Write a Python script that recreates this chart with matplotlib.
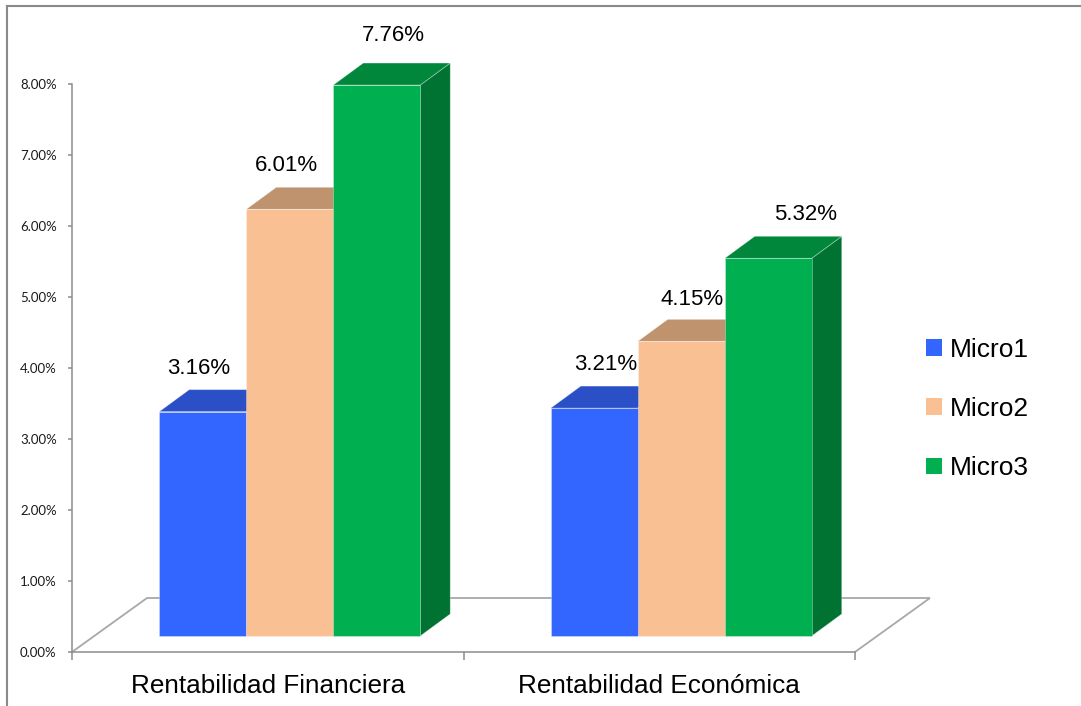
import matplotlib
matplotlib.use("Agg")
import matplotlib.pyplot as plt
from matplotlib.patches import Polygon, Patch
from matplotlib.lines import Line2D

# ---- data -------------------------------------------------------------
categories = ["Rentabilidad Financiera", "Rentabilidad Económica"]
series_names = ["Micro1", "Micro2", "Micro3"]
micro1 = [3.16, 3.21]
micro2 = [6.01, 4.15]
micro3 = [7.76, 5.32]
y_ticks = [0, 1, 2, 3, 4, 5, 6, 7, 8]

series_values = [micro1, micro2, micro3]

# ---- style ------------------------------------------------------------
front_colors = ["#3366FF", "#F9C193", "#00B050"]
top_colors = ["#2B4FC6", "#BF936E", "#00873C"]
side_colors = ["#223FA0", "#A57B55", "#007232"]
label_nudge_x_px = [[-19, -4], [-18, -4], [2, 22]]   # per series, per category
label_nudge_y_px = [[0, 0], [0, -2], [6, 0]]
axis_gray = "#8C8C8C"
floor_gray = "#A8A8A8"
main_font = "Liberation Sans"

W, H = 1081, 706
fig = plt.figure(figsize=(W / 100, H / 100), dpi=100)
fig.patch.set_facecolor("white")

# plot area: value axis at x=72px, floor front edge from 72 to 855px
ax = fig.add_axes([72 / W, (H - 652) / H, 783 / W, 568 / H])
ax.set_xlim(-0.5, 1.5)
ax.set_ylim(0, 8)
ax.set_facecolor("none")


def px_to_data(dx_px, dy_px):
    x0, y0 = ax.transData.transform((0, 0))
    x1, y1 = ax.transData.transform((1, 1))
    return dx_px / (x1 - x0), dy_px / (y1 - y0)


floor_dx, floor_dy = px_to_data(75, 54)     # full floor depth
front_dx, front_dy = px_to_data(22, 16)     # where bar fronts sit
depth_dx, depth_dy = px_to_data(30, 22)     # bar depth

# ---- floor ------------------------------------------------------------
xl, xr = ax.get_xlim()
floor_lines = [
    ([xl + floor_dx, xr + floor_dx], [floor_dy, floor_dy]),
    ([xl, xl + floor_dx], [0, floor_dy]),
    ([xr, xr + floor_dx], [0, floor_dy]),
]
for xs, ys in floor_lines:
    ax.plot(xs, ys, color=floor_gray, lw=1.3, zorder=1, clip_on=False,
            solid_capstyle="butt")

# ---- 3D bars ------------------------------------------------------------
n_series = len(series_values)
bar_w = 1.0 / 4.5
edge_kw = dict(edgecolor=(1, 1, 1, 0.35), linewidth=0.6, clip_on=False)

for j, cat in enumerate(categories):
    for i, vals in enumerate(series_values):
        v = vals[j]
        x0 = j + (i - (n_series - 1) / 2) * bar_w - bar_w / 2 + front_dx
        x1 = x0 + bar_w
        yb = front_dy
        yt = v + front_dy
        z = 3 + i * 3
        side = [(x1, yb), (x1 + depth_dx, yb + depth_dy),
                (x1 + depth_dx, yt + depth_dy), (x1, yt)]
        top = [(x0, yt), (x1, yt), (x1 + depth_dx, yt + depth_dy),
               (x0 + depth_dx, yt + depth_dy)]
        front = [(x0, yb), (x1, yb), (x1, yt), (x0, yt)]
        ax.add_patch(Polygon(side, closed=True, facecolor=side_colors[i],
                             zorder=z, **edge_kw))
        ax.add_patch(Polygon(top, closed=True, facecolor=top_colors[i],
                             zorder=z + 1, **edge_kw))
        ax.add_patch(Polygon(front, closed=True, facecolor=front_colors[i],
                             zorder=z + 2, **edge_kw))
        ax.annotate(f"{v:.2f}%",
                    xy=((x0 + x1) / 2 + depth_dx / 2, yt + depth_dy),
                    xytext=(label_nudge_x_px[i][j] * 0.72,
                            (16 + label_nudge_y_px[i][j]) * 0.72),
                    textcoords="offset points", ha="center", va="baseline",
                    fontsize=16, family=main_font, color="#000000",
                    zorder=20, annotation_clip=False)

# ---- axes styling -----------------------------------------------------
for s in ("top", "right"):
    ax.spines[s].set_visible(False)
for s in ("left", "bottom"):
    ax.spines[s].set_color(axis_gray)
    ax.spines[s].set_linewidth(1.1)
    ax.spines[s].set_zorder(2)

ax.set_yticks(y_ticks)
ax.set_yticklabels([f"{t:.2f}%" for t in y_ticks], family="Lato",
                   fontsize=9.5, color="#1A1A1A")
ax.tick_params(axis="y", direction="out", length=3, width=1.1,
               color=axis_gray, pad=8)

ax.set_xticks(range(len(categories)))
ax.set_xticklabels(categories, family=main_font, fontsize=18.8,
                   color="#000000")
ax.tick_params(axis="x", which="major", length=0, pad=16)
ax.set_xticks([xl, 0.5, xr], minor=True)
ax.tick_params(axis="x", which="minor", direction="out", length=5.8,
               width=1.1, color=axis_gray)

# ---- legend -----------------------------------------------------------
handles = [Patch(facecolor=c, edgecolor="none") for c in front_colors]
fig.legend(handles, series_names, loc="upper left",
           bbox_to_anchor=(926 / W, 1 - 338 / H), frameon=False,
           prop={"family": main_font, "size": 19},
           handlelength=0.6, handleheight=0.6, handletextpad=0.3,
           labelspacing=1.33, borderpad=0, borderaxespad=0)

# ---- chart border -----------------------------------------------------
fig.add_artist(Line2D([7 / W, 1], [1 - 6 / H, 1 - 6 / H],
                      transform=fig.transFigure, color="#8A8A8A", lw=1.5))
fig.add_artist(Line2D([7 / W, 7 / W], [0, 1 - 6 / H],
                      transform=fig.transFigure, color="#8A8A8A", lw=1.5))

fig.savefig("out.png", dpi=100, facecolor="white")
